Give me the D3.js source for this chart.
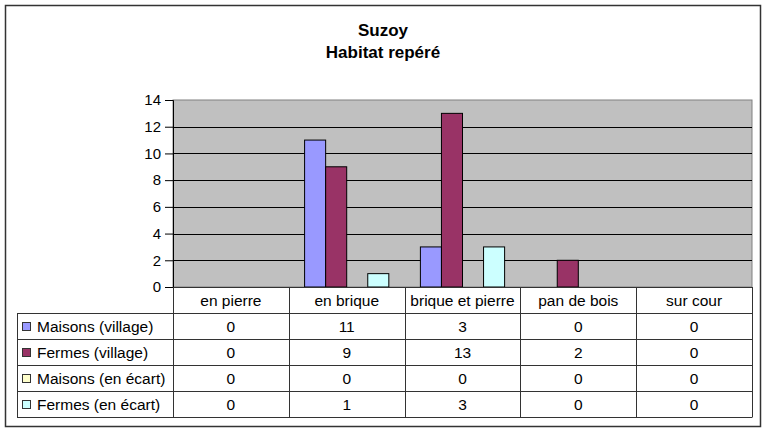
<!DOCTYPE html>
<html>
<head>
<meta charset="utf-8">
<script src="https://cdn.jsdelivr.net/npm/d3@7"></script>
<style>
  html, body { margin: 0; padding: 0; background: #fff; }
  svg { display: block; font-family: "Liberation Sans", Arial, sans-serif; }
</style>
</head>
<body>
<svg id="chart" width="768" height="435"></svg>
<script>
// Habitat types counted in Suzoy
const categories = ["en pierre", "en brique", "brique et pierre", "pan de bois", "sur cour"];
const seriesNames = ["Maisons (village)", "Fermes (village)", "Maisons (en écart)", "Fermes (en écart)"];
const maisonsVillage = [0, 11, 3, 0, 0];
const fermesVillage = [0, 9, 13, 2, 0];
const maisonsEcart = [0, 0, 0, 0, 0];
const fermesEcart = [0, 1, 3, 0, 0];
const yTicks = [0, 2, 4, 6, 8, 10, 12, 14];
const seriesColors = ["#9999ff", "#993366", "#ffffcc", "#ccffff"];

const series = [maisonsVillage, fermesVillage, maisonsEcart, fermesEcart];

const svg = d3.select("#chart");

// outer frame
svg.append("rect").attr("x", 5.5).attr("y", 5.5).attr("width", 755).attr("height", 421)
  .attr("fill", "#fff").attr("stroke", "#333").attr("stroke-width", 1.5);

// title
const title = svg.append("text").attr("text-anchor", "middle")
  .attr("font-weight", "bold").attr("font-size", 17).attr("fill", "#000");
title.append("tspan").attr("x", 383).attr("y", 36).text("Suzoy");
title.append("tspan").attr("x", 383).attr("y", 58).text("Habitat repéré");

const plot = { left: 173, right: 752, top: 100, bottom: 287 };

const x = d3.scaleBand().domain(categories).range([plot.left, plot.right]).paddingInner(0).paddingOuter(0);
const y = d3.scaleLinear().domain([0, 14]).range([plot.bottom, plot.top]);
// 4 adjacent bars per category, 150% gap split on both sides
const xs = d3.scaleBand().domain(d3.range(series.length)).range([0, x.bandwidth()])
  .paddingInner(0).paddingOuter(0.75);

// plot background
svg.append("rect").attr("x", plot.left).attr("y", plot.top)
  .attr("width", plot.right - plot.left).attr("height", plot.bottom - plot.top)
  .attr("fill", "#c0c0c0").attr("stroke", "#808080").attr("stroke-width", 1);

// gridlines
svg.append("g").selectAll("line").data(yTicks.filter(d => d > 0 && d < 14)).join("line")
  .attr("x1", plot.left).attr("x2", plot.right)
  .attr("y1", d => Math.round(y(d)) + 0.5).attr("y2", d => Math.round(y(d)) + 0.5)
  .attr("stroke", "#000").attr("stroke-width", 1);

// y axis
const yAxis = svg.append("g").attr("transform", `translate(${plot.left},0)`)
  .call(d3.axisLeft(y).tickValues(yTicks).tickSize(8).tickPadding(4).tickFormat(d3.format("d")));
yAxis.select(".domain").attr("stroke", "#000");
yAxis.selectAll(".tick line").attr("stroke", "#000");
yAxis.selectAll("text").attr("font-size", 15).attr("fill", "#000")
  .attr("font-family", "Liberation Sans, Arial, sans-serif");

// bars
const barGroups = svg.append("g").selectAll("g").data(series).join("g")
  .attr("fill", (d, i) => seriesColors[i]);
barGroups.each(function(vals, si) {
  d3.select(this).selectAll("rect").data(vals.map((v, ci) => ({ v, c: categories[ci] })))
    .join("rect")
    .filter(d => d.v > 0)
    .attr("x", d => x(d.c) + xs(si))
    .attr("width", xs.bandwidth())
    .attr("y", d => y(d.v))
    .attr("height", d => y(0) - y(d.v))
    .attr("stroke", "#000").attr("stroke-width", 1);
});

// data table
const tableLeft = 17;
const headerBottom = 313;
const rowH = 26;
const tableBottom = headerBottom + rowH * series.length;
const tbl = svg.append("g").attr("font-size", 15.5).attr("fill", "#000");
const lineColor = "#333";

// header labels
tbl.selectAll("text.cat").data(categories).join("text").attr("class", "cat")
  .attr("x", d => x(d) + x.bandwidth() / 2).attr("y", 306)
  .attr("text-anchor", "middle").text(d => d);

// horizontal lines
tbl.append("line").attr("x1", plot.left).attr("x2", plot.right)
  .attr("y1", plot.bottom + 0.5).attr("y2", plot.bottom + 0.5).attr("stroke", lineColor);
d3.range(series.length + 1).forEach(i => {
  const yy = headerBottom + i * rowH + 0.5;
  tbl.append("line").attr("x1", tableLeft).attr("x2", plot.right)
    .attr("y1", yy).attr("y2", yy).attr("stroke", lineColor);
});
// vertical lines
tbl.append("line").attr("x1", tableLeft + 0.5).attr("x2", tableLeft + 0.5)
  .attr("y1", headerBottom).attr("y2", tableBottom + 0.5).attr("stroke", lineColor);
categories.forEach(c => {
  const xx = Math.round(x(c)) + 0.5;
  tbl.append("line").attr("x1", xx).attr("x2", xx)
    .attr("y1", plot.bottom).attr("y2", tableBottom + 0.5).attr("stroke", lineColor);
});
tbl.append("line").attr("x1", plot.right + 0.5).attr("x2", plot.right + 0.5)
  .attr("y1", plot.bottom).attr("y2", tableBottom + 0.5).attr("stroke", lineColor);

// rows: legend key, name, values
series.forEach((vals, si) => {
  const top = headerBottom + si * rowH;
  tbl.append("rect").attr("x", 22.5).attr("y", top + 9.5).attr("width", 8).attr("height", 8)
    .attr("fill", seriesColors[si]).attr("stroke", "#333").attr("stroke-width", 1);
  tbl.append("text").attr("x", 37).attr("y", top + 19).text(seriesNames[si]);
  tbl.selectAll(null).data(vals).join("text")
    .attr("x", (d, ci) => x(categories[ci]) + x.bandwidth() / 2)
    .attr("y", top + 19).attr("text-anchor", "middle").text(d => d);
});
</script>
</body>
</html>
